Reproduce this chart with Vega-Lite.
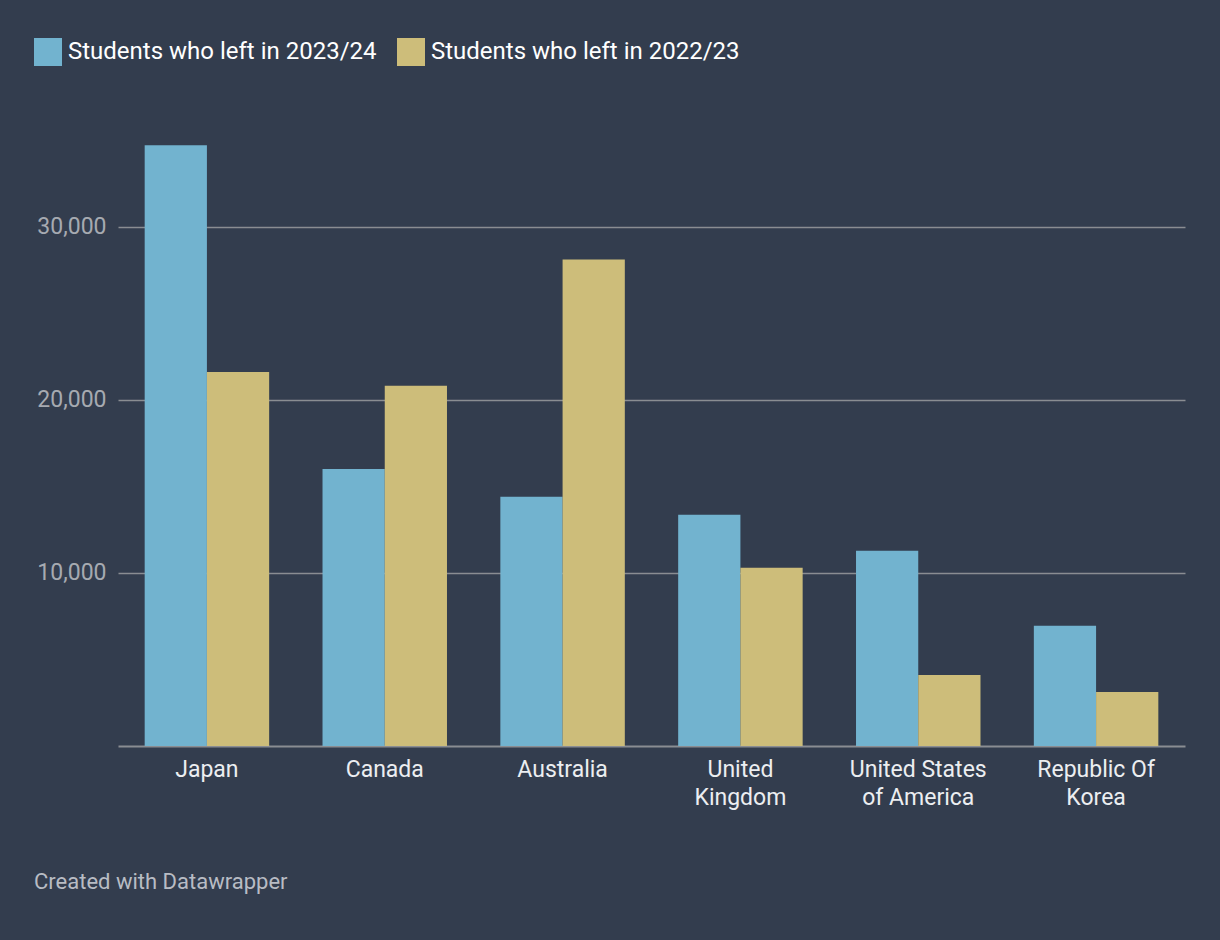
{
  "$schema": "https://vega.github.io/schema/vega-lite/v6.json",
  "width": 1067,
  "height": 606,
  "autosize": {"type": "none"},
  "padding": {"left": 118, "top": 140, "right": 35, "bottom": 194},
  "background": "#333d4e",
  "title": {
    "text": "Created with Datawrapper",
    "orient": "bottom",
    "anchor": "start",
    "frame": "group",
    "dx": -84,
    "offset": 63,
    "font": "Roboto",
    "fontSize": 22,
    "fontWeight": "normal",
    "color": "#b8bcc4"
  },
  "data": {
    "values": [
      {"country": "Japan", "series": "Students who left in 2023/24", "students": 34700},
      {"country": "Japan", "series": "Students who left in 2022/23", "students": 21600},
      {"country": "Canada", "series": "Students who left in 2023/24", "students": 16000},
      {"country": "Canada", "series": "Students who left in 2022/23", "students": 20800},
      {"country": "Australia", "series": "Students who left in 2023/24", "students": 14400},
      {"country": "Australia", "series": "Students who left in 2022/23", "students": 28100},
      {"country": "United|Kingdom", "series": "Students who left in 2023/24", "students": 13350},
      {"country": "United|Kingdom", "series": "Students who left in 2022/23", "students": 10290},
      {"country": "United States|of America", "series": "Students who left in 2023/24", "students": 11270},
      {"country": "United States|of America", "series": "Students who left in 2022/23", "students": 4100},
      {"country": "Republic Of|Korea", "series": "Students who left in 2023/24", "students": 6940},
      {"country": "Republic Of|Korea", "series": "Students who left in 2022/23", "students": 3120}
    ]
  },
  "mark": {"type": "bar"},
  "encoding": {
    "x": {
      "field": "country",
      "type": "nominal",
      "sort": null,
      "scale": {"paddingInner": 0.3, "paddingOuter": 0.15},
      "axis": {
        "title": null,
        "labelAngle": 0,
        "labelExpr": "split(datum.value, '|')",
        "labelFont": "Roboto",
        "labelFontSize": 23,
        "labelColor": "#eceef1",
        "labelPadding": 12,
        "labelLineHeight": 28,
        "ticks": false,
        "domainColor": "#8a8d92",
        "domainWidth": 2
      }
    },
    "xOffset": {"field": "series", "type": "nominal", "sort": ["Students who left in 2023/24", "Students who left in 2022/23"], "scale": {"paddingInner": 0, "paddingOuter": 0}},
    "y": {
      "field": "students",
      "type": "quantitative",
      "scale": {"domain": [0, 35000], "nice": false},
      "axis": {
        "title": null,
        "values": [10000, 20000, 30000],
        "format": ",.0f",
        "labelFont": "Roboto",
        "labelFontSize": 23,
        "labelColor": "#a6aab1",
        "labelPadding": 12,
        "ticks": false,
        "domain": false,
        "gridColor": "#8a8d92",
        "gridWidth": 1.5,
        "gridOpacity": 1
      }
    },
    "color": {
      "field": "series",
      "type": "nominal",
      "sort": ["Students who left in 2023/24", "Students who left in 2022/23"],
      "scale": {"domain": ["Students who left in 2023/24", "Students who left in 2022/23"], "range": ["#72b3cf", "#cdbd7a"]},
      "legend": {
        "title": null,
        "orient": "none",
        "legendX": -84,
        "legendY": -102,
        "direction": "horizontal",
        "symbolType": "square",
        "symbolSize": 784,
        "symbolStrokeWidth": 0,
        "symbolOpacity": 1,
        "labelFont": "Roboto",
        "labelFontSize": 24,
        "labelColor": "#ffffff",
        "labelOffset": 6,
        "labelLimit": 400,
        "columnPadding": 20
      }
    }
  },
  "config": {"view": {"stroke": null}}
}
